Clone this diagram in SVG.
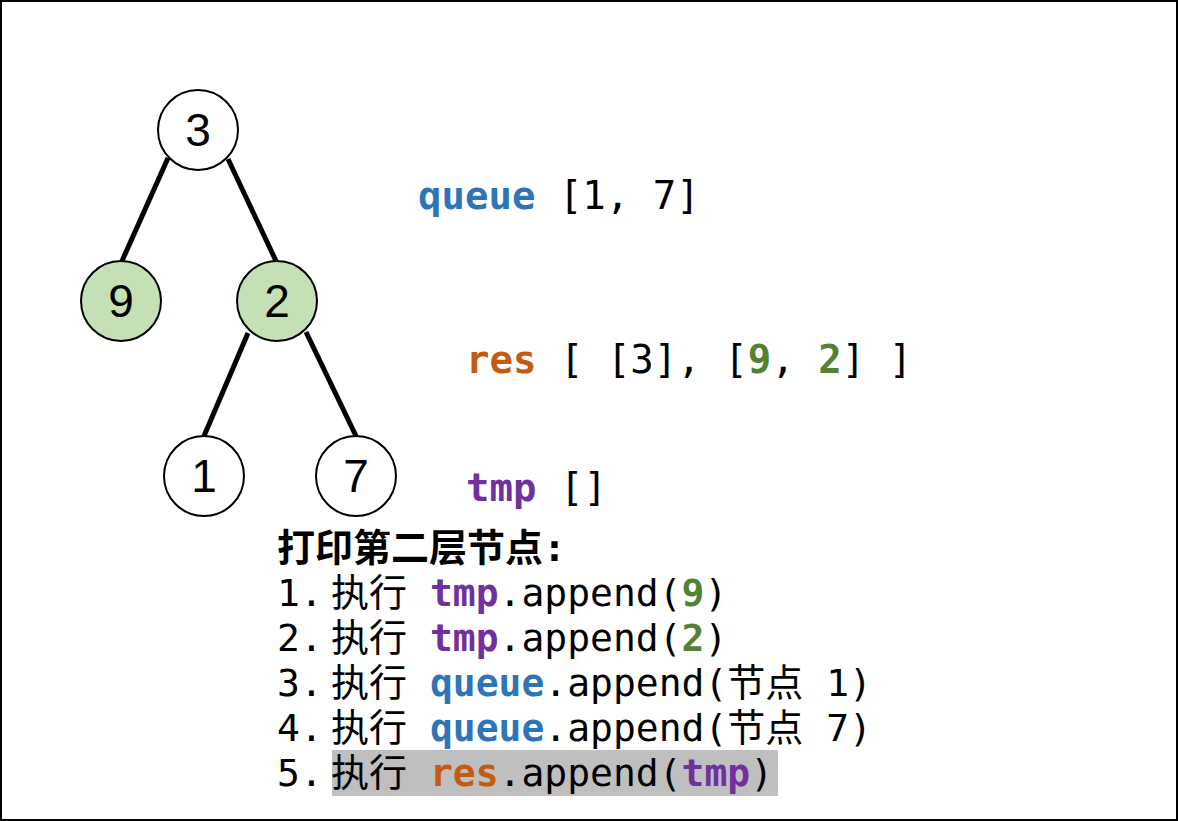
<svg xmlns="http://www.w3.org/2000/svg" width="1178" height="821" viewBox="0 0 1178 821">
<style>
.node circle{stroke:#000;stroke-width:2}
.node text{font-family:"Liberation Sans",Arial,sans-serif;font-size:46px;text-anchor:middle;fill:#000}
.edge{stroke:#000;stroke-width:5;fill:none}
.code{font-family:"DejaVu Sans Mono","Noto Sans CJK SC",monospace;font-size:38px;fill:#000}
.st{font-size:39px}
.q{fill:#2e75b6;font-weight:bold}
.r{fill:#c55a11;font-weight:bold}
.t{fill:#7030a0;font-weight:bold}
.g{fill:#538135;font-weight:bold}
.b{font-weight:bold}
</style>
<rect x="1" y="1" width="1176" height="819" fill="#fff" stroke="#000" stroke-width="2"/>
<g id="connectors">
<line class="edge" x1="168" y1="158" x2="122" y2="261"/>
<line class="edge" x1="228" y1="159" x2="276" y2="261"/>
<line class="edge" x1="248" y1="333" x2="204" y2="436"/>
<line class="edge" x1="306" y1="332" x2="356" y2="436"/>
</g>
<g id="node-3" class="node"><circle cx="198" cy="130" r="40" fill="#fff"/><text x="198" y="146">3</text></g>
<g id="node-9" class="node"><circle cx="121" cy="301" r="40" fill="#c5e0b4"/><text x="121" y="317">9</text></g>
<g id="node-2" class="node"><circle cx="277" cy="301" r="40" fill="#c5e0b4"/><text x="277" y="317">2</text></g>
<g id="node-1" class="node"><circle cx="204" cy="476" r="40" fill="#fff"/><text x="204" y="492">1</text></g>
<g id="node-7" class="node"><circle cx="356" cy="476" r="40" fill="#fff"/><text x="356" y="492">7</text></g>
<g id="state" xml:space="preserve">
<text class="code st" x="418" y="209"><tspan class="q">queue</tspan> [1, 7]</text>
<text class="code st" x="466" y="373"><tspan class="r">res</tspan> [ [3], [<tspan class="g">9</tspan>, <tspan class="g">2</tspan>] ]</text>
<text class="code st" x="466" y="501"><tspan class="t">tmp</tspan> []</text>
</g>
<rect x="332" y="750" width="446" height="46" fill="#bfbfbf"/>
<g id="steps" xml:space="preserve">
<text class="code b" x="277" y="561">打印第二层节点:</text>
<text class="code" x="277" y="606">1.<tspan x="331">执行 </tspan><tspan class="t">tmp</tspan>.append(<tspan class="g">9</tspan>)</text>
<text class="code" x="277" y="651">2.<tspan x="331">执行 </tspan><tspan class="t">tmp</tspan>.append(<tspan class="g">2</tspan>)</text>
<text class="code" x="277" y="696">3.<tspan x="331">执行 </tspan><tspan class="q">queue</tspan>.append(节点 1)</text>
<text class="code" x="277" y="741">4.<tspan x="331">执行 </tspan><tspan class="q">queue</tspan>.append(节点 7)</text>
<text class="code" x="277" y="786">5.<tspan x="331">执行 </tspan><tspan class="r">res</tspan>.append(<tspan class="t">tmp</tspan>)</text>
</g>
</svg>
